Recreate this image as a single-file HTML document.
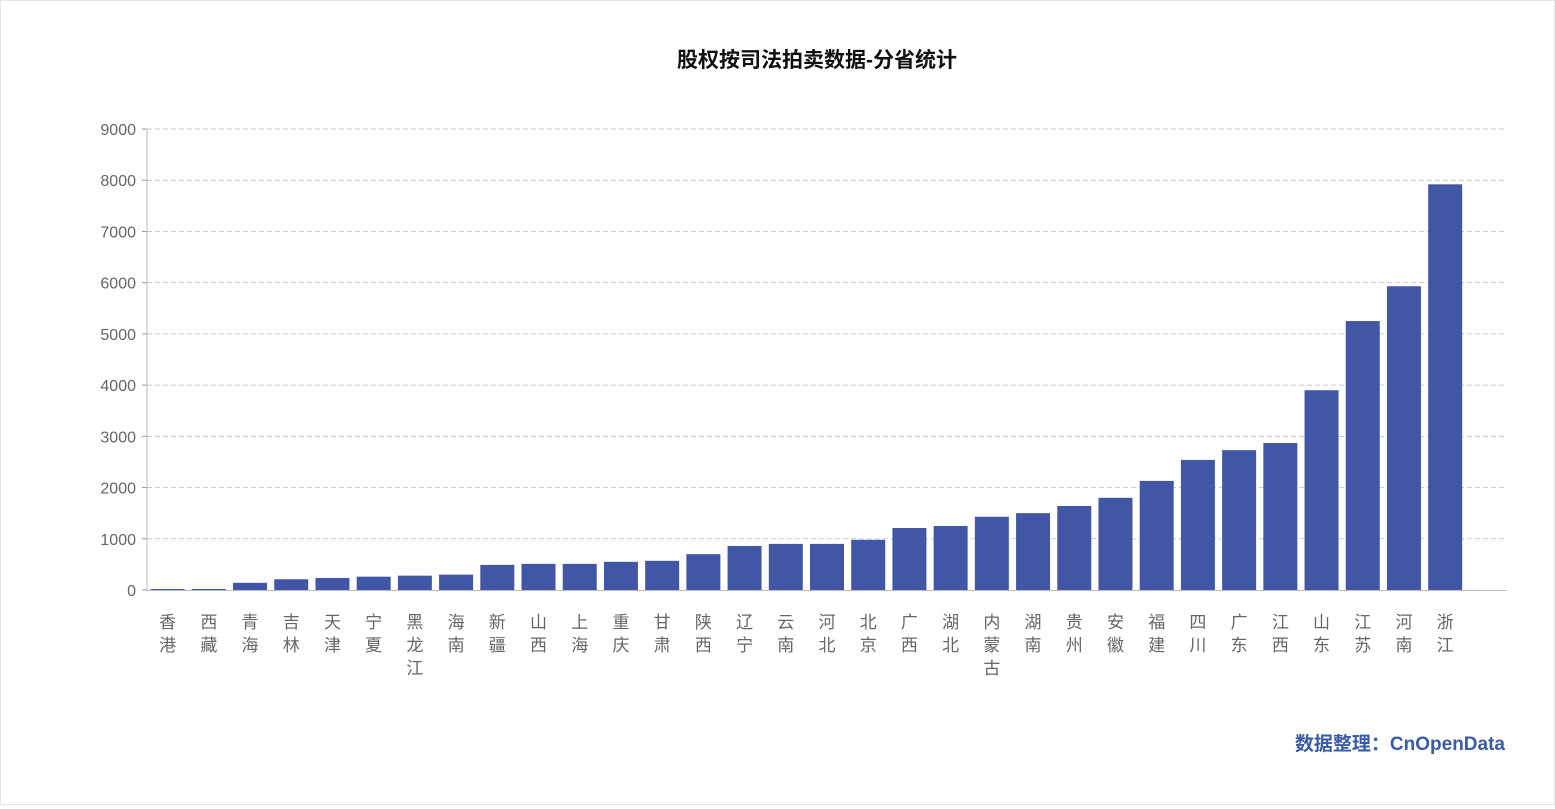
<!DOCTYPE html>
<html><head><meta charset="utf-8"><style>
body{margin:0;background:#fff;}
#wrap{position:relative;width:1553px;height:803px;border:1px solid #e6e6e6;font-family:"Liberation Sans","Noto Sans CJK SC",sans-serif;}
</style></head><body>
<div id="wrap">
<svg id="chart" width="1553" height="803"></svg>
</div>
<script>
const categories=["香港","西藏","青海","吉林","天津","宁夏","黑龙江","海南","新疆","山西","上海","重庆","甘肃","陕西","辽宁","云南","河北","北京","广西","湖北","内蒙古","湖南","贵州","安徽","福建","四川","广东","江西","山东","江苏","河南","浙江"];
const values=[20,20,140,210,235,260,280,300,490,510,510,550,570,700,860,900,900,980,1210,1250,1430,1500,1640,1800,2130,2540,2730,2870,3900,5250,5930,7920];
const yTicks=[0,1000,2000,3000,4000,5000,6000,7000,8000,9000];
const NS="http://www.w3.org/2000/svg";
const svg=document.getElementById('chart');
const x0=146,x1=1506,y0=589,y1=128,yMax=9000;
const band=(x1-x0)/33;
const y=v=>y0-(v/yMax)*(y0-y1);
const xc=i=>x0+band*(i+0.5);
function mk(t,a){const e=document.createElementNS(NS,t);for(const k in a)e.setAttribute(k,a[k]);svg.appendChild(e);return e;}
let t=mk('text',{x:816,y:66,'text-anchor':'middle','font-size':21,'font-weight':'bold',fill:'#111'});


t.textContent='股权按司法拍卖数据-分省统计';
yTicks.forEach(v=>{
 if(v>0){const l=mk('line',{x1:x0,x2:x1,y1:y(v),y2:y(v),stroke:'#ccc','stroke-dasharray':'5,3'});
 
 }
 const tk=mk('line',{x1:x0-5,x2:x0,y1:y(v),y2:y(v),stroke:'#999'});
 
 
 const tx=mk('text',{x:x0-11,y:y(v)+6,'text-anchor':'end','font-size':16,fill:'#666'});
 
 
 tx.textContent=v;
});
let ax=mk('line',{x1:x0,x2:x0,y1:y1,y2:y0,stroke:'#bbb'});


values.forEach((v,i)=>{
 const b=mk('rect',{x:xc(i)-17,y:y(v),width:34,height:y0-y(v),fill:'#4157a5'});
 
 
 const chars=[...categories[i]];
 chars.forEach((c,j)=>{
  const tx=mk('text',{x:xc(i),y:627+j*23,'text-anchor':'middle','font-size':17,fill:'#666'});
  
  
  tx.textContent=c;
 });
});
let xa=mk('line',{x1:x0,x2:x1,y1:y0+0.5,y2:y0+0.5,stroke:'#bbb'});


let s=mk('text',{x:1504,y:749,'text-anchor':'end','font-size':19,'font-weight':'bold',fill:'#3a5ba8'});


s.textContent='数据整理：CnOpenData';
</script>
</body></html>
